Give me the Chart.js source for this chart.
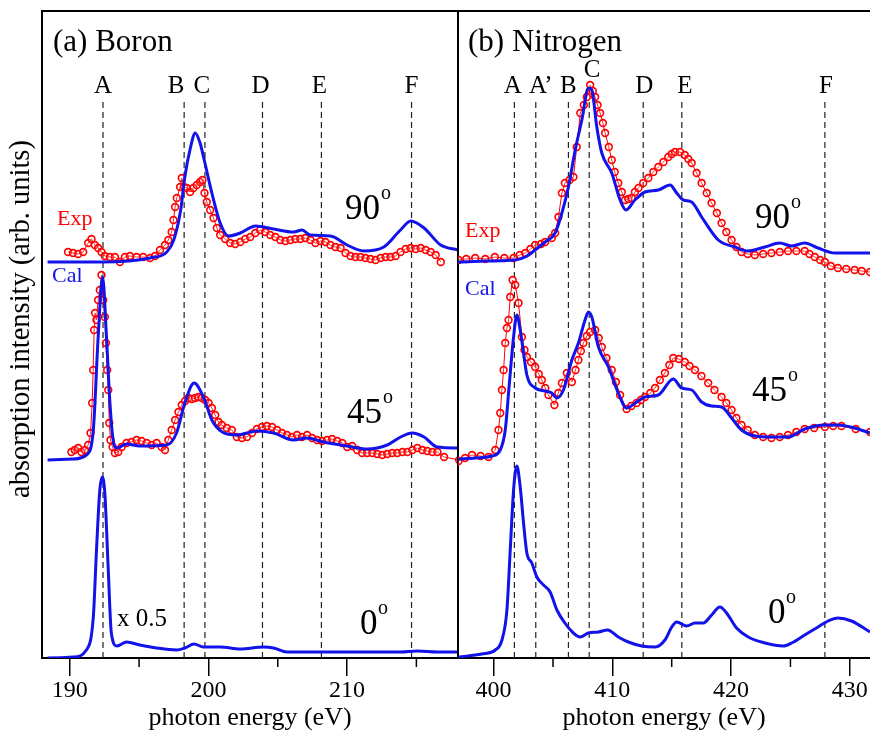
<!DOCTYPE html>
<html><head><meta charset="utf-8">
<script src="https://cdn.jsdelivr.net/npm/chart.js@4/dist/chart.umd.min.js"></script>
<style>
body{margin:0;background:#fff}
#wrap{position:relative;width:870px;height:735px;overflow:hidden}
canvas{position:absolute;left:0;top:0}
</style></head>
<body><div id="wrap"><canvas id="ca" width="870" height="735"></canvas><canvas id="cb" width="870" height="735"></canvas></div>
<script>
// ---------- Boron (a) ----------
const bXTicks = [190, 200, 210];
const bMinorTicks = [195, 205, 215];
const bMarkE = [192.4, 198.25, 199.75, 203.9, 208.15, 214.65];
const bMarkL = ['A', 'B', 'C', 'D', 'E', 'F'];

const b90calE = [188.4,192.3,195.8,197.0,197.5,198.0,198.3,198.7,199.05,199.4,199.65,200.25,200.85,201.45,202.3,203.4,204.7,206.15,206.75,207.35,208.8,210.0,211.2,212.65,213.85,214.6,215.55,216.75,218.0];
const b90calI = [396,396,400,406,418,448,481,510,525,515,501,465,435,422,425,432,429,426,428,423,422,413,407,411,428,437,430,413,408];

const b90expE = [189.88,190.24,190.61,190.97,191.33,191.57,191.81,192.05,192.29,192.53,192.9,193.26,193.62,193.98,194.34,194.82,195.3,195.79,196.15,196.51,196.87,197.11,197.35,197.48,197.6,197.72,197.96,198.08,198.25,198.44,198.68,198.92,199.16,199.4,199.57,199.72,199.88,200.13,200.37,200.61,200.85,201.21,201.57,201.93,202.3,202.66,203.02,203.38,203.74,204.1,204.46,204.83,205.19,205.55,205.91,206.27,206.63,206.99,207.36,207.72,208.08,208.44,208.8,209.16,209.53,209.89,210.25,210.61,210.97,211.33,211.69,212.06,212.42,212.78,213.14,213.5,213.86,214.23,214.59,214.95,215.31,215.67,216.03,216.39,216.76];
const b90expI = [406,405,404,406,415,419,413,410,406,402,401,401,396,401,402,401,401,400,402,408,413,418,426,438,451,460,471,480,471,470,466,470,473,476,478,465,456,448,440,430,423,419,415,414,416,419,421,425,428,426,423,421,418,417,418,419,419,420,418,415,417,416,413,411,410,405,402,401,401,400,399,398,400,401,401,402,406,409,410,409,410,408,406,403,396];

const b45calE = [188.4,190.24,191.2,191.7,192.05,192.37,192.65,192.9,193.13,193.4,194.1,195.06,197.0,197.7,198.3,198.97,199.64,200.25,201.0,202.05,203.5,204.7,206.15,207.1,208.3,210.0,211.45,212.9,213.86,214.7,215.55,216.5,218.0];
const b45calI = [198,199,203,228,321,381,321,255,218,210,214,212,213,225,255,275,261,238,226,223,227,225,218,220,216,212,209,213,221,225,221,211,210];

const b45expE = [190.12,190.36,190.61,190.85,191.09,191.33,191.5,191.62,191.69,191.76,191.83,191.93,192.05,192.17,192.29,192.41,192.53,192.61,192.7,192.78,192.85,192.94,193.09,193.26,193.5,193.74,194.1,194.46,194.82,195.18,195.55,195.91,196.27,196.63,196.87,197.11,197.35,197.6,197.84,198.08,198.32,198.56,198.8,199.04,199.28,199.52,199.77,200.01,200.25,200.49,200.73,200.97,201.33,201.69,202.05,202.42,202.78,203.14,203.5,203.86,204.22,204.59,204.95,205.31,205.67,206.03,206.39,206.75,207.12,207.48,207.84,208.2,208.56,208.92,209.29,209.65,210.01,210.37,210.73,211.09,211.45,211.82,212.18,212.54,212.9,213.26,213.62,213.99,214.35,214.71,215.07,215.43,215.79,216.15,216.52,217.0,218.08];
const b45expI = [206,208,210,206,208,213,225,255,288,328,345,338,358,368,383,358,341,315,288,268,235,218,211,205,206,211,215,216,218,217,215,213,215,211,208,218,228,238,246,253,257,260,259,260,261,260,258,255,250,243,236,233,230,228,221,220,221,225,229,231,232,231,228,225,223,221,223,221,223,220,218,217,218,219,217,215,211,212,208,205,205,205,204,203,204,205,205,206,206,208,210,208,207,206,206,201,198];

const b0calE = [188.4,190.24,191.2,191.7,191.93,192.17,192.34,192.53,192.77,193.0,193.4,194.1,195.06,196.27,197.7,198.3,198.97,199.64,200.85,202.3,203.97,204.7,205.67,207.1,209.5,211.9,213.86,215.07,216.5,218.0];
const b0calI = [0,1,8,41,108,168,181,165,91,25,12,16,13,10,8,10,14,11,11,9,11,10,6,6,6,6,6,7,6,6];

// ---------- Nitrogen (b) ----------
const nXTicks = [400, 410, 420, 430];
const nMinorTicks = [405, 415, 425];
const nMarkE = [401.75, 403.55, 406.3, 408.05, 412.6, 415.85, 427.9];
const nMarkL = ['A', 'A\u2019', 'B', 'C', 'D', 'E', 'F'];

const n90calE = [397.0,399.5,401.82,402.66,403.5,404.34,405.18,405.75,406.3,406.87,407.43,407.98,408.27,408.69,409.11,409.95,410.65,411.15,411.9,412.75,413.87,414.86,415.42,415.98,416.68,417.52,418.92,420.32,421.44,422.85,424.1,425.1,426.2,427.33,428.73,431.7];
const n90calI = [396,397,398,401,408,416,425,445,471,508,538,570,568,531,505,485,458,448,458,466,468,473,465,458,456,441,418,411,407,411,415,412,415,410,405,405];

const n90expE = [397.05,397.7,398.45,399.3,400.1,400.9,401.68,402.2,402.66,403.1,403.5,404.0,404.34,404.9,405.18,405.46,405.75,406.0,406.4,406.72,407.0,407.3,407.6,407.85,408.13,408.35,408.55,408.75,408.97,409.2,409.39,409.7,409.95,410.2,410.5,410.8,411.07,411.35,411.63,411.9,412.2,412.6,413.03,413.45,413.87,414.3,414.71,415.0,415.28,415.7,416.1,416.4,416.68,417.1,417.52,417.95,418.36,418.8,419.2,419.6,420.04,420.45,420.88,421.4,422.0,422.7,423.4,424.1,424.8,425.5,426.2,426.6,427.05,427.5,427.9,428.4,429.0,429.7,430.4,431.0,431.7];
const n90expI = [398,399,400,399,401,400,400,403,405,409,413,414,416,420,425,441,465,475,478,481,511,545,553,561,573,567,561,553,545,535,525,511,498,486,475,466,458,459,460,466,470,475,480,486,491,496,501,504,506,506,503,499,495,485,475,465,455,445,435,426,418,411,406,404,403,404,405,406,407,407,407,404,401,398,396,392,390,389,388,387,386];

const n45calE = [397.05,398.45,399.86,400.56,400.98,401.3,401.68,401.96,402.24,402.52,402.8,403.5,404.34,404.9,405.33,405.88,406.59,407.14,407.7,407.98,408.27,408.83,409.67,410.5,411.2,412.05,412.75,413.87,415.13,415.84,416.68,417.52,418.36,419.2,420.04,420.88,422.0,423.4,424.8,426.2,427.9,429.0,430.4,431.7];
const n45calI = [199,200,202,208,228,271,321,343,328,305,283,270,267,265,260,268,298,315,338,346,341,311,291,265,250,256,261,263,279,270,268,256,252,251,240,228,222,221,221,229,233,233,230,225];

const n45expE = [397.05,397.6,398.18,398.9,399.57,400.14,400.41,400.56,400.7,400.84,400.98,401.12,401.26,401.4,401.6,401.82,402.1,402.38,402.6,402.8,403.15,403.5,403.8,404.06,404.35,404.62,405.12,405.45,405.75,406.17,406.59,406.9,407.14,407.35,407.56,407.85,408.13,408.55,408.85,409.11,409.5,409.95,410.3,410.65,411.2,411.6,412.05,412.4,412.75,413.2,413.6,414.0,414.43,414.8,415.13,415.6,416.1,416.5,416.96,417.5,418.07,418.6,419.2,419.6,420.04,420.45,420.88,421.4,422.0,422.7,423.4,424.1,424.8,425.5,426.2,427.0,427.9,428.6,429.3,430.5,431.7];
const n45expI = [197,200,203,202,201,208,228,245,268,288,315,330,338,361,378,373,355,321,308,301,296,291,284,278,270,263,253,265,275,285,276,288,298,307,315,322,326,328,320,311,300,288,276,263,249,252,255,258,261,265,270,278,285,293,300,299,296,292,288,282,275,268,261,255,248,240,233,228,223,221,220,221,223,226,229,230,231,232,232,229,226];

const n0calE = [397.05,399.0,400.14,400.7,401.12,401.4,401.68,401.96,402.24,402.52,402.8,403.22,403.64,404.2,404.76,405.33,406.0,406.72,407.29,407.98,408.83,409.6,410.5,411.35,412.47,413.6,414.43,415.0,415.42,416.26,416.96,417.66,418.36,419.06,419.62,420.46,421.44,422.85,424.38,425.1,426.2,427.33,428.17,429.0,430.14,431.7];
const n0calI = [1,4,8,18,48,108,168,192,171,135,105,95,81,73,66,48,35,25,21,25,26,28,21,16,12,11,18,31,36,32,35,35,43,51,45,30,21,15,12,15,23,31,37,40,37,26];

// ---------- helpers ----------
const BLUE = 'rgb(18,18,235)';
const RED = 'rgb(255,0,0)';
const SERIF = '"Liberation Serif", "Times New Roman", serif';
const pts = (E, I) => E.map((e, i) => ({x: e, y: I[i]}));
const calSet = (E, I) => ({data: pts(E, I), borderColor: BLUE, borderWidth: 3, pointRadius: 0, cubicInterpolationMode: 'monotone', fill: false, order: 1});
const expSet = (E, I) => ({data: pts(E, I), borderColor: RED, borderWidth: 1, pointRadius: 3.4, pointBorderWidth: 1.6, pointBorderColor: RED, pointBackgroundColor: 'rgba(255,255,255,0.2)', tension: 0, fill: false, order: 2});
const dashSets = (marks) => marks.map(e => ({data: [{x: e, y: 0}, {x: e, y: 556}], borderColor: '#222', borderWidth: 1.2, borderDash: [6, 4], pointRadius: 0, fill: false, order: 3}));

const decor = {
  id: 'decor',
  afterDraw(chart, args, o) {
    const ctx = chart.ctx, ca = chart.chartArea, xs = chart.scales.x;
    ctx.save();
    ctx.strokeStyle = '#000'; ctx.lineWidth = 2;
    ctx.beginPath(); ctx.moveTo(ca.left - 1, ca.top); ctx.lineTo(ca.right + 1, ca.top); ctx.stroke();
    ctx.lineWidth = 1.5;
    o.minor.forEach(v => { const x = xs.getPixelForValue(v); ctx.beginPath(); ctx.moveTo(x, ca.bottom); ctx.lineTo(x, ca.bottom + 9); ctx.stroke(); });
    ctx.fillStyle = '#000'; ctx.textAlign = 'center'; ctx.textBaseline = 'alphabetic';
    ctx.font = '25px ' + SERIF;
    o.markE.forEach((e, i) => { ctx.fillText(o.markL[i], xs.getPixelForValue(e) + o.markDx[i], o.markY[i]); });
    o.texts.forEach(t => {
      ctx.font = t.s + 'px ' + SERIF; ctx.fillStyle = t.c || '#000'; ctx.textAlign = 'left';
      ctx.fillText(t.t, t.x, t.y);
    });
    if (o.yTitle) {
      ctx.save();
      ctx.translate(o.yTitle.x, o.yTitle.y); ctx.rotate(-Math.PI / 2);
      ctx.font = o.yTitle.s + 'px ' + SERIF; ctx.fillStyle = '#000'; ctx.textAlign = 'center'; ctx.textBaseline = 'middle';
      ctx.fillText(o.yTitle.t, 0, 0);
      ctx.restore();
    }
    ctx.restore();
  }
};

const xTitle = {display: true, text: 'photon energy (eV)', font: {family: SERIF, size: 26}, color: '#000', padding: {top: 0, bottom: 1}};
const xAxis = (min, max, ticks) => ({
  type: 'linear', min: min, max: max,
  afterFit: s => { s.height = 77; s.paddingLeft = 0; s.paddingRight = 0; },
  afterBuildTicks: s => { s.ticks = ticks.map(v => ({value: v})); },
  ticks: {font: {family: SERIF, size: 24}, color: '#000', padding: 0, maxRotation: 0, autoSkip: false},
  grid: {drawOnChartArea: false, drawTicks: true, tickLength: 18, color: '#000', lineWidth: 1.5},
  border: {display: true, color: '#000', width: 2},
  title: xTitle
});

new Chart(document.getElementById('ca'), {
  type: 'line',
  data: {datasets: [
    ...dashSets(bMarkE),
    expSet(b90expE, b90expI), expSet(b45expE, b45expI),
    calSet(b90calE, b90calI), calSet(b45calE, b45calI), calSet(b0calE, b0calI)
  ]},
  options: {
    responsive: false, animation: false, devicePixelRatio: 1,
    layout: {autoPadding: false, padding: {top: 11, right: 412, left: 0, bottom: 0}},
    plugins: {legend: {display: false}, tooltip: {enabled: false},
      decor: {minor: bMinorTicks, markE: bMarkE, markL: bMarkL, markY: [93, 93, 93, 93, 93, 93], markDx: [0, -8, -3, -2, -2, 0],
        yTitle: {t: 'absorption intensity (arb. units)', x: 22, y: 319, s: 28.5},
        texts: [
          {t: '(a) Boron', x: 53, y: 51, s: 31},
          {t: 'Exp', x: 57, y: 225, s: 22, c: RED},
          {t: 'Cal', x: 52, y: 282, s: 22, c: BLUE},
          {t: '90', x: 345, y: 219, s: 35}, {t: 'o', x: 381, y: 199, s: 20},
          {t: '45', x: 347, y: 423, s: 35}, {t: 'o', x: 383, y: 403, s: 20},
          {t: '0', x: 360, y: 634, s: 35}, {t: 'o', x: 378, y: 614, s: 20},
          {t: 'x 0.5', x: 117, y: 626, s: 25}
        ]}},
    scales: {
      x: xAxis(188, 218, bXTicks),
      y: {type: 'linear', min: 0, max: 647, afterFit: s => { s.width = 42; },
        ticks: {display: false}, grid: {display: false},
        border: {display: true, color: '#000', width: 2},
        title: {display: false}}
    }
  },
  plugins: [decor]
});

new Chart(document.getElementById('cb'), {
  type: 'line',
  data: {datasets: [
    ...dashSets(nMarkE),
    expSet(n90expE, n90expI), expSet(n45expE, n45expI),
    calSet(n90calE, n90calI), calSet(n45calE, n45calI), calSet(n0calE, n0calI)
  ]},
  options: {
    responsive: false, animation: false, devicePixelRatio: 1,
    layout: {autoPadding: false, padding: {top: 11, right: 0, left: 458, bottom: 0}},
    plugins: {legend: {display: false}, tooltip: {enabled: false},
      decor: {minor: nMinorTicks, markE: nMarkE, markL: nMarkL, markY: [93, 93, 93, 77, 93, 93, 93], markDx: [-1.5, 5, 0, 3, 1, 3, 1],
        texts: [
          {t: '(b) Nitrogen', x: 468, y: 51, s: 31},
          {t: 'Exp', x: 465, y: 237, s: 22, c: RED},
          {t: 'Cal', x: 465, y: 295, s: 22, c: BLUE},
          {t: '90', x: 755, y: 228, s: 35}, {t: 'o', x: 791, y: 208, s: 20},
          {t: '45', x: 752, y: 401, s: 35}, {t: 'o', x: 788, y: 381, s: 20},
          {t: '0', x: 768, y: 623, s: 35}, {t: 'o', x: 786, y: 603, s: 20}
        ]}},
    scales: {
      x: xAxis(397, 431.7, nXTicks),
      y: {type: 'linear', min: 0, max: 647, afterFit: s => { s.width = 0; },
        ticks: {display: false}, grid: {display: false},
        border: {display: true, color: '#000', width: 2}}
    }
  },
  plugins: [decor]
});
</script>
</body></html>
